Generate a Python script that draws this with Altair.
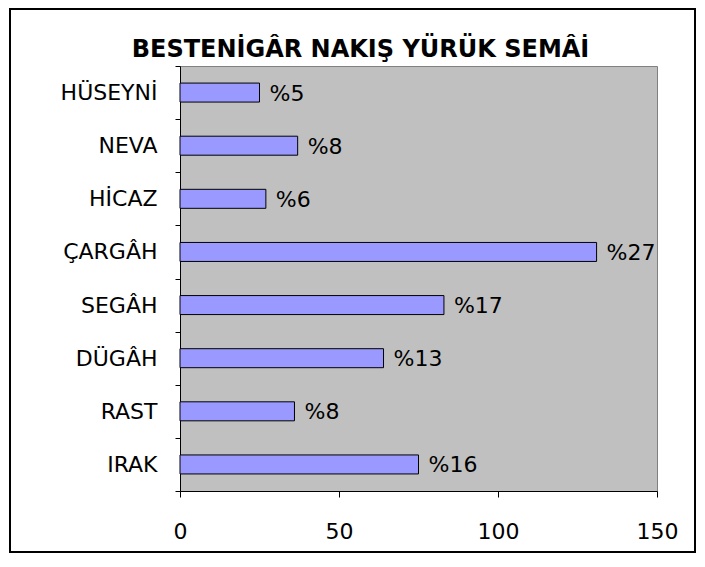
import altair as alt
import pandas as pd

categories = ["HÜSEYNİ", "NEVA", "HİCAZ", "ÇARGÂH", "SEGÂH", "DÜGÂH", "RAST", "IRAK"]
values = [25, 37, 27, 131, 83, 64, 36, 75]
labels = ["%5", "%8", "%6", "%27", "%17", "%13", "%8", "%16"]
x_ticks = [0, 50, 100, 150]
chart_title = "BESTENİGÂR NAKIŞ YÜRÜK SEMÂİ"

df = pd.DataFrame({"cat": categories, "val": values, "lab": labels})

W, H = 477, 425
PAD_L, PAD_T, PAD_R, PAD_B = 172, 58, 39, 62
FONT = "DejaVu Sans"

y_axis = alt.Axis(
    title=None, tickBand="extent", tickSize=5, tickColor="black", domainColor="black",
    labelFont=FONT, labelFontSize=22, labelFontWeight="normal", labelColor="black",
    labelPadding=18, grid=False,
)
x_axis = alt.Axis(
    title=None, values=x_ticks, tickSize=6, tickColor="black", domainColor="black",
    labelFont=FONT, labelFontSize=22, labelFontWeight="normal", labelColor="black",
    labelPadding=24, grid=False, labelFlush=False, labelOverlap=False,
)

y_enc = alt.Y("cat:N", sort=categories, scale=alt.Scale(paddingInner=0, paddingOuter=0), axis=y_axis)
x_enc = alt.X("val:Q", scale=alt.Scale(domain=[0, 150], nice=False, zero=True), axis=x_axis)

bars = alt.Chart(df).mark_bar(size=19, fill="#9999FF", stroke="black", strokeWidth=1).encode(
    x=x_enc, y=y_enc
)
text = alt.Chart(df).mark_text(
    align="left", baseline="middle", dx=10, dy=1, fontSize=22, font=FONT, color="black"
).encode(x="val:Q", y=alt.Y("cat:N", sort=categories), text="lab:N")

frame = alt.Chart(pd.DataFrame({"a": [0]})).mark_rect(
    filled=False, stroke="black", strokeWidth=2
).encode(
    x=alt.value(-170), x2=alt.value(515), y=alt.value(-57), y2=alt.value(486)
)

chart = alt.layer(bars, text, frame).properties(
    width=W, height=H,
    background="white",
    title=alt.TitleParams(
        text=chart_title, font=FONT, fontSize=24, fontWeight="bold", color="black",
        anchor="middle", dx=-58, dy=62, offset=8,
    ),
    autosize=alt.AutoSizeParams(type="none"),
    padding={"left": PAD_L, "top": PAD_T, "right": PAD_R, "bottom": PAD_B},
).configure_view(
    fill="#C0C0C0", stroke="#808080", strokeWidth=1
)

chart.save("out.html", embed_options={"renderer": "svg", "actions": False})
